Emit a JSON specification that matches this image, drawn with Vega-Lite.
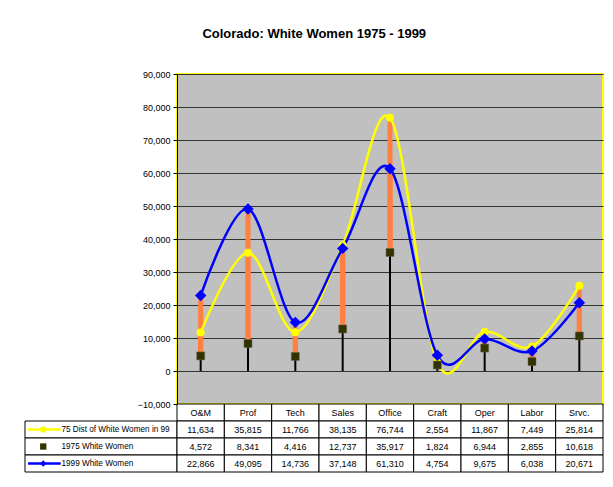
{
  "$schema": "https://vega.github.io/schema/vega-lite/v6.json",
  "background": "white",
  "padding": {"left": 24, "top": 28, "right": 11, "bottom": 14},
  "title": {"text": "Colorado: White Women 1975 - 1999", "font": "Liberation Sans", "fontSize": 13, "fontWeight": "bold", "color": "black", "anchor": "middle", "offset": 28},
  "config": {"font": "Liberation Sans", "view": {"stroke": null}},
  "datasets": {
    "occ": [
      {"cat": "O&M", "dist75": 11634, "w1975": 4572, "w1999": 22866},
      {"cat": "Prof", "dist75": 35815, "w1975": 8341, "w1999": 49095},
      {"cat": "Tech", "dist75": 11766, "w1975": 4416, "w1999": 14736},
      {"cat": "Sales", "dist75": 38135, "w1975": 12737, "w1999": 37148},
      {"cat": "Office", "dist75": 76744, "w1975": 35917, "w1999": 61310},
      {"cat": "Craft", "dist75": 2554, "w1975": 1824, "w1999": 4754},
      {"cat": "Oper", "dist75": 11867, "w1975": 6944, "w1999": 9675},
      {"cat": "Labor", "dist75": 7449, "w1975": 2855, "w1999": 6038},
      {"cat": "Srvc.", "dist75": 25814, "w1975": 10618, "w1999": 20671}
    ],
    "legend": [
      {"key": "dist75", "label": "75 Dist of White Women in 99"},
      {"key": "w1975", "label": "1975 White Women"},
      {"key": "w1999", "label": "1999 White Women"}
    ]
  },
  "columns": 2,
  "spacing": 0,
  "bounds": "flush",
  "concat": [
    {
      "width": 152,
      "height": 330,
      "data": {"values": [{"t": ""}]},
      "mark": {"type": "text"},
      "encoding": {"text": {"field": "t", "type": "nominal"}}
    },
    {
      "width": 426,
      "height": 330,
      "data": {"name": "occ"},
      "view": {"fill": "#C0C0C0", "stroke": "#FFFF00", "strokeWidth": 2},
      "encoding": {
        "x": {"field": "cat", "type": "nominal", "sort": null, "axis": null,
              "scale": {"domain": ["O&M", "Prof", "Tech", "Sales", "Office", "Craft", "Oper", "Labor", "Srvc."]}}
      },
      "layer": [
        {
          "mark": {"type": "rule", "color": "#FF8040", "strokeWidth": 5},
          "encoding": {
            "y": {"field": "w1975", "type": "quantitative",
                  "scale": {"domain": [-10000, 90000], "nice": false, "zero": false},
                  "axis": {"title": null, "values": [-10000, 0, 10000, 20000, 30000, 40000, 50000, 60000, 70000, 80000, 90000],
                           "tickCount": 11,
                           "format": ",d", "labelFontSize": 9, "labelColor": "black", "labelPadding": 3, "labelOverlap": false,
                           "grid": true, "gridColor": "#333333", "gridWidth": 1, "gridOpacity": 1,
                           "domainColor": "black", "tickColor": "black", "tickSize": 4}},
            "y2": {"field": "dist75"}
          }
        },
        {
          "mark": {"type": "rule", "color": "#FF8040", "strokeWidth": 5},
          "encoding": {"y": {"field": "w1975", "type": "quantitative"}, "y2": {"field": "w1999"}}
        },
        {
          "mark": {"type": "rule", "color": "black", "strokeWidth": 2},
          "encoding": {"y": {"field": "w1975", "type": "quantitative"}, "y2": {"datum": 0}}
        },
        {
          "mark": {"type": "line", "color": "#FFFF00", "strokeWidth": 2.5, "interpolate": "cardinal"},
          "encoding": {"y": {"field": "dist75", "type": "quantitative"}}
        },
        {
          "mark": {"type": "line", "color": "#0000FF", "strokeWidth": 2.5, "interpolate": "cardinal"},
          "encoding": {"y": {"field": "w1999", "type": "quantitative"}}
        },
        {
          "mark": {"type": "point", "shape": "circle", "filled": true, "color": "#FFFF00", "opacity": 1, "size": 64},
          "encoding": {"y": {"field": "dist75", "type": "quantitative"}}
        },
        {
          "mark": {"type": "point", "shape": "diamond", "filled": true, "color": "#0000FF", "opacity": 1, "size": 130},
          "encoding": {"y": {"field": "w1999", "type": "quantitative"}}
        },
        {
          "mark": {"type": "point", "shape": "square", "filled": true, "color": "#333300", "opacity": 1, "size": 64, "stroke": "#666655", "strokeWidth": 0.5},
          "encoding": {"y": {"field": "w1975", "type": "quantitative"}}
        }
      ]
    },
    {
      "width": 152,
      "height": 68,
      "data": {"name": "legend"},
      "encoding": {
        "y": {"field": "key", "type": "nominal", "axis": null,
              "scale": {"domain": ["hdr", "dist75", "w1975", "w1999"], "paddingInner": 0, "paddingOuter": 0}}
      },
      "layer": [
        {
          "mark": {"type": "rect", "fill": "white", "stroke": "black", "strokeWidth": 1},
          "encoding": {
            "x": {"datum": 0, "type": "quantitative", "scale": {"domain": [0, 1]}, "axis": null},
            "x2": {"datum": 1}
          }
        },
        {
          "transform": [{"filter": "datum.key != 'w1975'"}],
          "mark": {"type": "rule", "strokeWidth": 2.5},
          "encoding": {
            "x": {"datum": 0.02, "type": "quantitative"},
            "x2": {"datum": 0.235},
            "color": {"field": "key", "type": "nominal", "legend": null,
                      "scale": {"domain": ["dist75", "w1975", "w1999"], "range": ["#FFFF00", "#333300", "#0000FF"]}}
          }
        },
        {
          "mark": {"type": "point", "filled": true, "opacity": 1, "size": 40},
          "encoding": {
            "x": {"datum": 0.12, "type": "quantitative"},
            "color": {"field": "key", "type": "nominal", "legend": null},
            "shape": {"field": "key", "type": "nominal", "legend": null,
                      "scale": {"domain": ["dist75", "w1975", "w1999"], "range": ["circle", "square", "diamond"]}}
          }
        },
        {
          "mark": {"type": "text", "align": "left", "baseline": "middle", "fontSize": 8.2, "color": "black"},
          "encoding": {
            "x": {"datum": 0.24, "type": "quantitative"},
            "text": {"field": "label", "type": "nominal"}
          }
        }
      ]
    },
    {
      "width": 426,
      "height": 68,
      "data": {"name": "occ"},
      "encoding": {
        "x": {"field": "cat", "type": "nominal", "sort": null, "axis": null,
              "scale": {"domain": ["O&M", "Prof", "Tech", "Sales", "Office", "Craft", "Oper", "Labor", "Srvc."], "paddingInner": 0, "paddingOuter": 0}}
      },
      "layer": [
        {
          "mark": {"type": "rect", "fill": "white", "stroke": "black", "strokeWidth": 1},
          "encoding": {
            "y": {"datum": "hdr", "type": "nominal", "axis": null,
                  "scale": {"domain": ["hdr", "dist75", "w1975", "w1999"], "paddingInner": 0, "paddingOuter": 0}}
          }
        },
        {
          "mark": {"type": "text", "fontSize": 9, "color": "black", "baseline": "middle"},
          "encoding": {
            "y": {"datum": "hdr", "type": "nominal"},
            "text": {"field": "cat", "type": "nominal"}
          }
        },
        {
          "transform": [{"fold": ["dist75", "w1975", "w1999"], "as": ["key", "value"]}],
          "mark": {"type": "rect", "fill": "white", "stroke": "black", "strokeWidth": 1},
          "encoding": {"y": {"field": "key", "type": "nominal"}}
        },
        {
          "transform": [{"fold": ["dist75", "w1975", "w1999"], "as": ["key", "value"]}],
          "mark": {"type": "text", "fontSize": 9, "color": "black", "baseline": "middle"},
          "encoding": {
            "y": {"field": "key", "type": "nominal"},
            "text": {"field": "value", "type": "quantitative", "format": ","}
          }
        }
      ]
    }
  ]
}
